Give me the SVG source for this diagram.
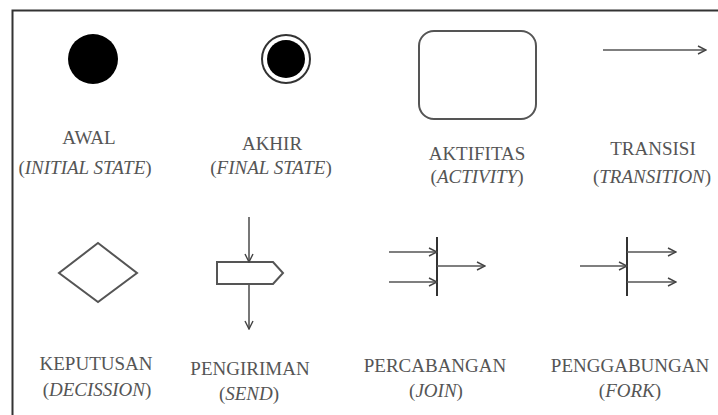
<svg xmlns="http://www.w3.org/2000/svg" width="718" height="415" viewBox="0 0 718 415">
<defs>
<style>
.lbl{font-family:'Liberation Serif','Times New Roman','DejaVu Serif',serif;font-size:19px;fill:#555;text-anchor:middle}
.it{font-style:italic}
.sh{fill:none;stroke:#555;stroke-width:2}
.ln{fill:none;stroke:#555;stroke-width:1.6}
</style>
<marker id="ah" viewBox="0 0 10 10" refX="9" refY="5" markerWidth="10" markerHeight="10" markerUnits="userSpaceOnUse" orient="auto">
<path d="M1,1 L9,5 L1,9" fill="none" stroke="#444" stroke-width="1.4"/>
</marker>
</defs>
<rect width="718" height="415" fill="#fff"/>
<path d="M12.5,415 V10.5 H718" fill="none" stroke="#333" stroke-width="2"/>

<g id="initial">
<circle cx="93" cy="59" r="25" fill="#000"/>
<text class="lbl" x="89" y="144">AWAL</text>
<text class="lbl" x="85" y="174">(<tspan class="it">INITIAL STATE</tspan>)</text>
</g>

<g id="final">
<circle cx="286" cy="59" r="24" fill="#fff" stroke="#333" stroke-width="2"/>
<circle cx="286" cy="59" r="19" fill="#000"/>
<text class="lbl" x="272" y="150">AKHIR</text>
<text class="lbl" x="271" y="174">(<tspan class="it">FINAL STATE</tspan>)</text>
</g>

<g id="activity">
<rect x="419" y="31" width="117" height="88" rx="15" class="sh"/>
<text class="lbl" x="477" y="160">AKTIFITAS</text>
<text class="lbl" x="477" y="183">(<tspan class="it">ACTIVITY</tspan>)</text>
</g>

<g id="transition">
<text class="lbl" x="653" y="155">TRANSISI</text>
<text class="lbl" x="652" y="183">(<tspan class="it">TRANSITION</tspan>)</text>
</g>

<g id="decision">
<polygon points="98,243 137,273 98,302 59,273" class="sh"/>
<text class="lbl" x="96" y="370">KEPUTUSAN</text>
<text class="lbl" x="97" y="396">(<tspan class="it">DECISSION</tspan>)</text>
</g>

<g id="send">
<polygon points="217,262 273,262 283,273 273,284 217,284" class="sh"/>
<text class="lbl" x="250" y="375">PENGIRIMAN</text>
<text class="lbl" x="249" y="400">(<tspan class="it">SEND</tspan>)</text>
</g>

<g id="join">
<line x1="437" y1="237" x2="437" y2="296" stroke="#333" stroke-width="2"/>
<text class="lbl" x="435" y="372">PERCABANGAN</text>
<text class="lbl" x="436" y="397">(<tspan class="it">JOIN</tspan>)</text>
</g>

<g id="fork">
<line x1="627" y1="237" x2="627" y2="296" stroke="#333" stroke-width="2"/>
<text class="lbl" x="630" y="372">PENGGABUNGAN</text>
<text class="lbl" x="630" y="397">(<tspan class="it">FORK</tspan>)</text>
</g>

<g id="connectors">
<line x1="603" y1="50" x2="706" y2="50" class="ln" marker-end="url(#ah)"/>
<line x1="249" y1="217" x2="249" y2="262" class="ln" marker-end="url(#ah)"/>
<line x1="249" y1="284" x2="249" y2="329" class="ln" marker-end="url(#ah)"/>
<line x1="389" y1="252" x2="437" y2="252" class="ln" marker-end="url(#ah)"/>
<line x1="389" y1="282" x2="437" y2="282" class="ln" marker-end="url(#ah)"/>
<line x1="437" y1="266" x2="485" y2="266" class="ln" marker-end="url(#ah)"/>
<line x1="580" y1="266" x2="627" y2="266" class="ln" marker-end="url(#ah)"/>
<line x1="627" y1="252" x2="676" y2="252" class="ln" marker-end="url(#ah)"/>
<line x1="627" y1="282" x2="676" y2="282" class="ln" marker-end="url(#ah)"/>
</g>
</svg>
